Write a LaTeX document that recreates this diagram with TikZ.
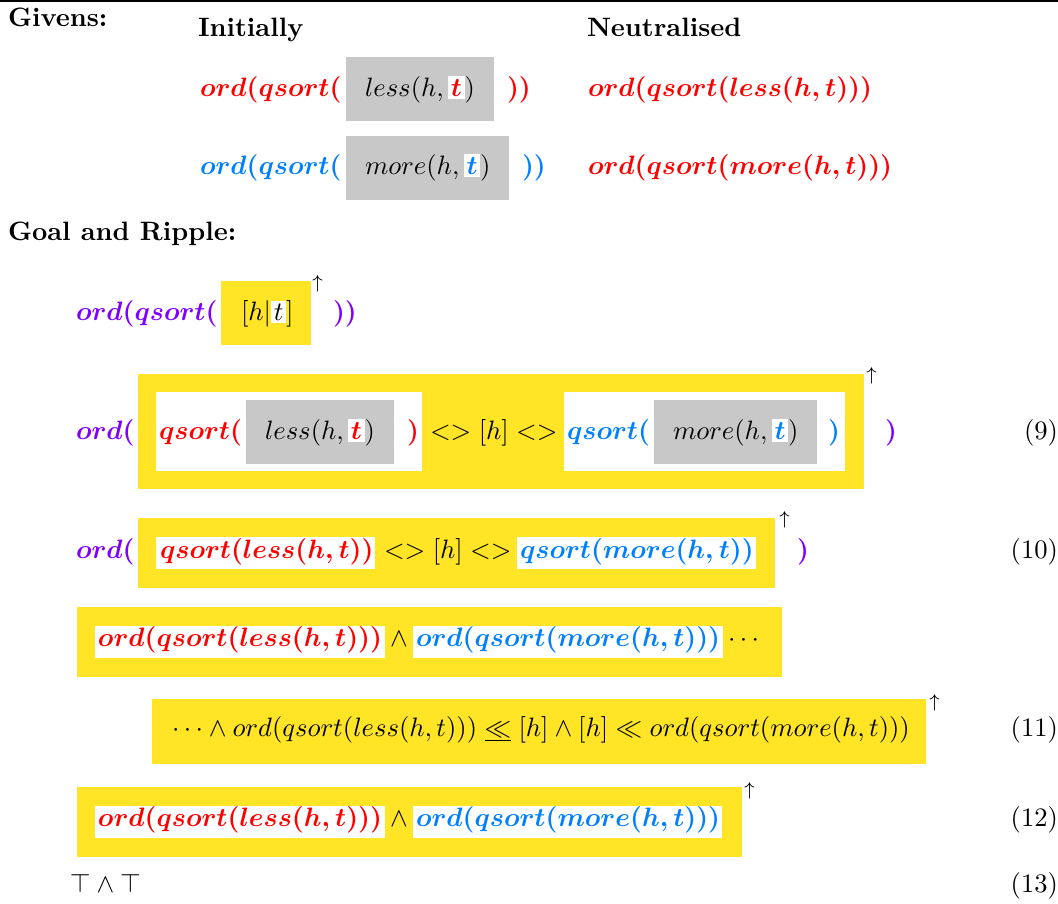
\documentclass[tikz,border=0pt]{standalone}
\usepackage{amsmath}
\definecolor{myred}{RGB}{255,0,0}
\definecolor{myblue}{RGB}{0,128,255}
\definecolor{mypurple}{RGB}{128,0,255}
\definecolor{myyellow}{RGB}{255,229,38}
\definecolor{mygray}{RGB}{200,200,200}
\newcommand{\hlt}[2]{{\setlength{\fboxsep}{1pt}\colorbox{white}{\color{#1}$\boldsymbol{#2}$}}}
\newcommand{\hlp}[1]{{\setlength{\fboxsep}{1pt}\colorbox{white}{$#1$}}}
\begin{document}
\begin{tikzpicture}[x=0.376pt,y=-0.376pt,
  txt/.style={anchor=base west,inner sep=0pt,outer sep=0pt},
  num/.style={anchor=base east,inner sep=0pt,outer sep=0pt},
  arr/.style={anchor=base west,inner sep=0pt,outer sep=0pt,font=\scriptsize},
  ybox/.style={fill=myyellow},
  gbox/.style={fill=mygray},
  wbox/.style={fill=white}]
\useasboundingbox (0,0) rectangle (1058,904);
\fill (0,0) rectangle (1058,2);
% headers
\node[txt] (givens) at (8,26) {\textbf{Givens:}};
\node[txt] (init) at (198,36) {\textbf{Initially}};
\node[txt] (neut) at (587,36) {\textbf{Neutralised}};
\node[txt] (goal) at (8,240) {\textbf{Goal and Ripple:}};
% row 1
\fill[gbox] (346,57) rectangle (494,121);
\node[txt,text=myred] (r1a) at (200,96) {$\boldsymbol{ord(qsort(}$};
\node[txt] (r1b) at (365,96) {$less(h,\hlt{myred}{t})$};
\node[txt,text=myred] (r1c) at (507,96) {$\boldsymbol{))}$};
\node[txt,text=myred] (n1) at (588,96) {$\boldsymbol{ord(qsort(less(h,t)))}$};
% row 2
\fill[gbox] (346,136) rectangle (509,200);
\node[txt,text=myblue] (r2a) at (200,174) {$\boldsymbol{ord(qsort(}$};
\node[txt] (r2b) at (365,174) {$more(h,\hlt{myblue}{t})$};
\node[txt,text=myblue] (r2c) at (522,174) {$\boldsymbol{))}$};
\node[txt,text=myred] (n2) at (588,174) {$\boldsymbol{ord(qsort(more(h,t)))}$};
% goal row
\fill[ybox] (221,281) rectangle (311,345);
\node[txt,text=mypurple] (ga) at (76,320) {$\boldsymbol{ord(qsort(}$};
\node[txt] (gb) at (241,320) {$[h|\hlp{t}]$};
\node[arr] (garr) at (312,288) {$\uparrow$};
\node[txt,text=mypurple] (gc) at (333,320) {$\boldsymbol{))}$};
% row 9
\fill[ybox] (138,374) rectangle (864,489);
\fill[wbox] (156,392) rectangle (422,471);
\fill[wbox] (564,392) rectangle (845,471);
\fill[gbox] (246,400) rectangle (394,464);
\fill[gbox] (654,400) rectangle (817,464);
\node[txt,text=mypurple] (a9) at (76,439) {$\boldsymbol{ord(}$};
\node[txt,text=myred] (b9) at (159,439) {$\boldsymbol{qsort(}$};
\node[txt] (c9) at (265,439) {$less(h,\hlt{myred}{t})$};
\node[txt,text=myred] (d9) at (407,439) {$\boldsymbol{)}$};
\node[txt] (e9) at (430,439) {$<>[h]<>$};
\node[txt,text=myblue] (f9) at (567,439) {$\boldsymbol{qsort(}$};
\node[txt] (g9) at (673,439) {$more(h,\hlt{myblue}{t})$};
\node[txt,text=myblue] (h9) at (828,439) {$\boldsymbol{)}$};
\node[arr] (arr9) at (866,380) {$\uparrow$};
\node[txt,text=mypurple] (i9) at (885,439) {$\boldsymbol{)}$};
\node[num] (n9) at (1058,439) {(9)};
% row 10
\fill[ybox] (138,518) rectangle (775,588);
\fill[wbox] (156,537) rectangle (375,569);
\fill[wbox] (517,537) rectangle (756,569);
\node[txt,text=mypurple] (a10) at (76,558) {$\boldsymbol{ord(}$};
\node[txt,text=myred] (b10) at (160,558) {$\boldsymbol{qsort(less(h,t))}$};
\node[txt] (c10) at (384,558) {$<>[h]<>$};
\node[txt,text=myblue] (d10) at (520,558) {$\boldsymbol{qsort(more(h,t))}$};
\node[arr] (arr10) at (779,524) {$\uparrow$};
\node[txt,text=mypurple] (e10) at (797,558) {$\boldsymbol{)}$};
\node[num] (n10) at (1058,558) {(10)};
% row 11a
\fill[ybox] (77,607) rectangle (782,677);
\fill[wbox] (95,626) rectangle (385,658);
\fill[wbox] (413,626) rectangle (723,658);
\node[txt,text=myred] (a11) at (98,646) {$\boldsymbol{ord(qsort(less(h,t)))}$};
\node[txt] (b11) at (390,646) {$\wedge$};
\node[txt,text=myblue] (c11) at (416,646) {$\boldsymbol{ord(qsort(more(h,t)))}$};
\node[txt] (d11) at (728,646) {$\cdots$};
% row 11b
\fill[ybox] (152,699) rectangle (926,764);
\node[txt] (e11) at (172,736) {$\cdots\wedge ord(qsort(less(h,t)))\mathrel{\underline{\ll}}[h]\wedge[h]\ll ord(qsort(more(h,t)))$};
\node[arr] (arr11) at (929,707) {$\uparrow$};
\node[num] (n11) at (1058,736) {(11)};
% row 12
\fill[ybox] (77,787) rectangle (742,857);
\fill[wbox] (95,806) rectangle (385,838);
\fill[wbox] (413,806) rectangle (722,838);
\node[txt,text=myred] (a12) at (98,826) {$\boldsymbol{ord(qsort(less(h,t)))}$};
\node[txt] (b12) at (390,826) {$\wedge$};
\node[txt,text=myblue] (c12) at (416,826) {$\boldsymbol{ord(qsort(more(h,t)))}$};
\node[arr] (arr12) at (744,795) {$\uparrow$};
\node[num] (n12) at (1058,826) {(12)};
% row 13
\node[txt] (a13) at (70,892) {$\top\wedge\top$};
\node[num] (n13) at (1058,892) {(13)};
\end{tikzpicture}
\end{document}
